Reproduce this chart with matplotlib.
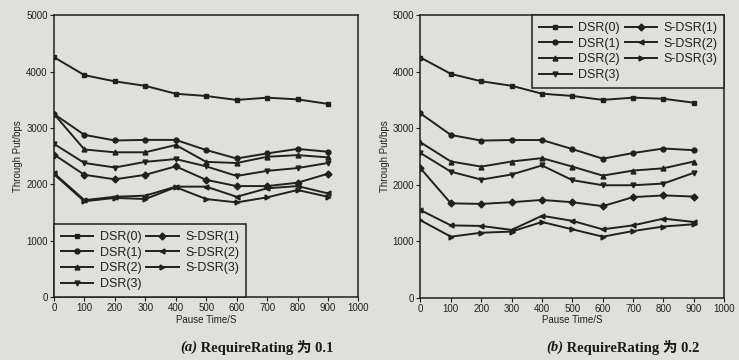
import numpy as np
import matplotlib.pyplot as plt

plt.rcParams['font.family'] = ['Liberation Sans', 'DejaVu Sans']

pause = [0, 100, 200, 300, 400, 500, 600, 700, 800, 900]
names = ['DSR(0)', 'DSR(1)', 'DSR(2)', 'DSR(3)', 'S-DSR(1)', 'S-DSR(2)', 'S-DSR(3)']
markers = ['s', 'o', '^', 'v', 'D', '<', '>']

# (a) RequireRating 0.1
a_dsr0 = [4260, 3940, 3830, 3750, 3610, 3570, 3500, 3540, 3510, 3430]
a_dsr1 = [3250, 2880, 2780, 2790, 2790, 2610, 2460, 2550, 2630, 2580]
a_dsr2 = [3250, 2620, 2570, 2570, 2700, 2400, 2380, 2490, 2520, 2480]
a_dsr3 = [2720, 2380, 2300, 2400, 2450, 2320, 2150, 2240, 2290, 2380]
a_sdsr1 = [2530, 2170, 2090, 2170, 2320, 2080, 1970, 1970, 2030, 2190]
a_sdsr2 = [2200, 1720, 1780, 1800, 1960, 1960, 1780, 1930, 1970, 1840]
a_sdsr3 = [2180, 1700, 1760, 1740, 1950, 1740, 1680, 1770, 1900, 1780]

# (b) RequireRating 0.2
b_dsr0 = [4250, 3960, 3830, 3750, 3610, 3570, 3500, 3540, 3520, 3450]
b_dsr1 = [3260, 2880, 2780, 2790, 2790, 2630, 2460, 2560, 2640, 2610]
b_dsr2 = [2750, 2410, 2320, 2410, 2470, 2320, 2160, 2250, 2290, 2410]
b_dsr3 = [2560, 2230, 2090, 2180, 2340, 2080, 1990, 1990, 2020, 2210]
b_sdsr1 = [2290, 1670, 1660, 1690, 1730, 1690, 1620, 1780, 1810, 1790]
b_sdsr2 = [1550, 1280, 1270, 1200, 1450, 1360, 1210, 1280, 1400, 1340]
b_sdsr3 = [1370, 1080, 1150, 1170, 1340, 1210, 1080, 1180, 1260, 1300]

panels = [
    ([a_dsr0, a_dsr1, a_dsr2, a_dsr3, a_sdsr1, a_sdsr2, a_sdsr3], '(a)', ' RequireRating 为 0.1', 'lower left'),
    ([b_dsr0, b_dsr1, b_dsr2, b_dsr3, b_sdsr1, b_sdsr2, b_sdsr3], '(b)', ' RequireRating 为 0.2', 'upper right'),
]

bg = '#dfdfdb'
ink = '#202020'
fig = plt.figure(figsize=(7.39, 3.6), dpi=100, facecolor=bg)
boxes = [[0.073, 0.175, 0.412, 0.782], [0.569, 0.173, 0.411, 0.785]]

for (series, tag, cap, loc), box in zip(panels, boxes):
    ax = fig.add_axes(box)
    ax.set_facecolor(bg)
    for vals, nm, mk in zip(series, names, markers):
        ax.plot(pause, vals, color=ink, lw=1.4, marker=mk, ms=3.5, label=nm)
    ax.set_xlim(0, 1000)
    ax.set_ylim(0, 5000)
    ax.set_xticks(np.arange(0, 1001, 100))
    ax.set_yticks(np.arange(0, 5001, 1000))
    ax.tick_params(labelsize=7, length=3, width=0.8, color=ink, labelcolor=ink, pad=1.5)
    for s in ax.spines.values():
        s.set_color(ink)
        s.set_linewidth(1.1)
    ax.set_xlabel('Pause Time/S', fontsize=7, color=ink, labelpad=1)
    ax.set_ylabel('Through Put/bps', fontsize=7, color=ink, labelpad=2)
    leg = ax.legend(loc=loc, ncol=2, fontsize=9, frameon=True, fancybox=False,
                    edgecolor=ink, facecolor=bg, framealpha=1, borderaxespad=0,
                    handlelength=2.6, handletextpad=0.5, columnspacing=0.4,
                    labelspacing=0.3, borderpad=0.55)
    leg.get_frame().set_linewidth(1.1)
    for t in leg.get_texts():
        t.set_color(ink)
    cx = box[0] + box[2] / 2
    fig.text(cx - 0.012, 0.035, tag, ha='right', va='center', fontsize=10.5,
             fontweight='bold', fontstyle='italic',
             family=['Liberation Serif', 'Noto Sans CJK SC'], color='#1a1a1a')
    fig.text(cx - 0.012, 0.035, cap, ha='left', va='center', fontsize=10.5,
             fontweight='bold', family=['Liberation Serif', 'Noto Sans CJK SC'], color='#1a1a1a')

fig.savefig('out.png', dpi=100, facecolor=bg)
